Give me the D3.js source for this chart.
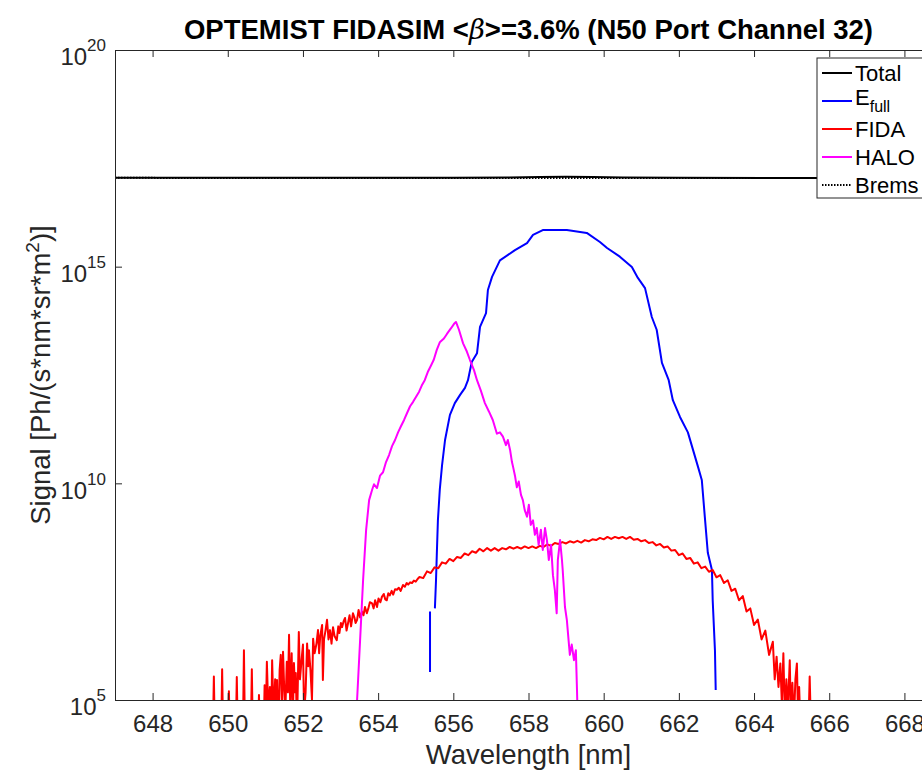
<!DOCTYPE html>
<html>
<head>
<meta charset="utf-8">
<script src="https://cdn.jsdelivr.net/npm/d3@7"></script>
<style>
  body { margin: 0; background: #fff; }
  svg { display: block; font-family: Helvetica, "Liberation Sans", Arial, sans-serif; }
</style>
</head>
<body>
<div class="chart_container"></div>
<script>
// ---- data ----
const wavelengthTicks = [648, 650, 652, 654, 656, 658, 660, 662, 664, 666, 668];
const signalTicks = [1e5, 1e10, 1e15, 1e20];

const totalWl  = [647, 650, 653, 656, 657.5, 658.3, 659, 659.7, 660.5, 662, 665, 669];
const totalSig = [1.12e17, 1.12e17, 1.12e17, 1.12e17, 1.14e17, 1.18e17, 1.19e17, 1.17e17, 1.14e17, 1.12e17, 1.11e17, 1.11e17];

const bremsWl  = [647, 669];
const bremsSig = [1.12e17, 1.11e17];

// null = gap in the trace
const efullWl  = [655.38, 655.38, 655.40, 655.51, 655.54, 655.56, 655.59, 655.64, 655.70, 655.78, 655.91, 656.04, 656.18, 656.31,
  656.39, 656.49, 656.63, 656.71, 656.87, 656.92, 657.03, 657.24, 657.64, 657.96, 658.12, 658.38, 659.02, 659.55, 659.90,
  660.09, 660.43, 660.75, 660.91, 661.10, 661.28, 661.41, 661.55, 661.73, 661.84, 662.03, 662.24, 662.51, 662.61, 662.69,
  662.77, 662.88, 662.90, 662.96, 662.98];
const efullSig = [4.4e5, 1.1e7, null, 1.3e7, 5.9e7, 2.2e8, 1.4e9, 7.1e9, 2.6e10, 1.0e11, 3.8e11, 7.1e11, 1.1e12, 1.6e12,
  2.4e12, 6.3e12, 1.0e13, 4.1e13, 8.5e13, 2.9e14, 5.8e14, 1.4e15, 2.4e15, 3.5e15, 5.4e15, 7.0e15, 7.0e15, 6.0e15, 3.7e15,
  2.7e15, 1.7e15, 9.8e14, 5.5e14, 3.2e14, 6.9e13, 3.5e13, 6.0e12, 2.4e12, 8.3e11, 3.4e11, 1.5e11, 2.4e10, 1.2e10, 1.7e9,
  2.5e8, 1.0e8, 2.0e7, 1.4e6, 1.7e5];

const fidaWl = [649.50, 649.60, 649.63, 649.66, 649.82, 649.85, 649.88, 650.00, 650.03, 650.06, 650.21, 650.24, 650.27,
  650.40, 650.43, 650.46, 650.61, 650.64, 650.67, 650.80, 650.83, 650.86, 650.95, 650.98, 651.01, 651.04, 651.08, 651.12,
  651.15, 651.18, 651.22, 651.26, 651.28, 651.31, 651.34, 651.38, 651.41, 651.44, 651.47, 651.50, 651.53, 651.57, 651.60,
  651.63, 651.66, 651.70, 651.73, 651.76, 651.79, 651.81, 651.84, 651.89, 651.92, 651.97, 652.00, 652.03, 652.07, 652.11,
  652.14, 652.16, 652.20, 652.24, 652.27, 652.31, 652.36, 652.40, 652.43, 652.46, 652.51, 652.53, 652.56, 652.60, 652.64,
  652.68, 652.72, 652.76, 652.80, 652.84, 652.90, 652.94, 652.97, 653.01, 653.04, 653.08, 653.12, 653.16, 653.20, 653.24,
  653.28, 653.33, 653.37, 653.40, 653.44, 653.48, 653.52, 653.57, 653.61, 653.65, 653.70, 653.74, 653.78, 653.84, 653.88,
  653.92, 653.97, 654.01, 654.06, 654.10, 654.15, 654.19, 654.23, 654.27, 654.31, 654.36, 654.40, 654.45, 654.50, 654.55,
  654.60, 654.66, 654.71, 654.76, 654.80, 654.85, 654.90, 654.95, 655.00, 655.05,
  655.1, 655.2, 655.3, 655.4, 655.5, 655.6, 655.7, 655.8, 655.9, 656.0, 656.1, 656.2, 656.3, 656.4, 656.5, 656.6, 656.7,
  656.8, 656.9, 657.0, 657.1, 657.2, 657.3, 657.4, 657.5, 657.6, 657.7, 657.8, 657.9, 658.0, 658.1, 658.2, 658.3, 658.4,
  658.5, 658.6, 658.7, 658.8, 658.9, 659.0, 659.1, 659.2, 659.3, 659.4, 659.5, 659.6, 659.7, 659.8, 659.9, 660.0, 660.1,
  660.2, 660.3, 660.4, 660.5, 660.6, 660.7, 660.8, 660.9, 661.0, 661.1, 661.2, 661.3, 661.4, 661.5, 661.6, 661.7, 661.8,
  661.9, 662.0, 662.1, 662.2, 662.3, 662.4, 662.5, 662.6, 662.7, 662.8, 662.9, 663.0, 663.1, 663.2, 663.3, 663.4, 663.5,
  663.6, 663.7, 663.8, 663.9, 664.0, 664.1, 664.2, 664.3, 664.4, 664.50, 664.55, 664.60, 664.65, 664.70, 664.74, 664.78,
  664.82, 664.86, 664.90, 664.95, 664.98, 665.02, 665.06, 665.10, 665.14, 665.17, 665.20, 665.23, 665.45, 665.48, 665.51,
  665.55];
const fidaSig = [1e4, 1e4, 3.5e5, 1e4, 1e4, 5.1e5, 1e4, 1e4, 1.6e5, 1e4, 1e4, 3.4e5, 1e4,
  1e4, 1.4e6, 1e4, 1e4, 5.1e5, 1e4, 1e4, 1.3e5, 1e4, 1e4, 2.2e5, 3e4, 7.6e5, 5e4, 2e5,
  1e4, 8.3e5, 4e4, 3e5, 2e4, 2.9e5, 1e4, 5e5, 1.1e6, 6e4, 1.3e6, 2e5, 5e4, 7.6e5, 1.5e5,
  3.2e6, 8e4, 1.2e6, 3e4, 7.1e5, 1.5e5, 4.2e5, 2e4, 3.7e6, 3e5, 9.8e5, 1.9e6, 5e4, 1.5e5, 2.0e6,
  6e5, 1.4e6, 4.9e5, 1e5, 2.6e6, 1.2e6, 2.0e6, 4.1e6, 1.2e6, 3.0e6, 5.4e6, 2.9e5, 2.5e6, 4.0e6, 7.1e6,
  2.5e6, 4.1e6, 2.0e6, 4.8e6, 3.0e6, 2.4e6, 5.0e6, 3.5e6, 6.0e6, 4.8e6, 6.5e6, 7.8e6, 4.0e6, 6.0e6, 9.0e6,
  5.0e6, 1.0e7, 8.0e6, 6.0e6, 7.1e6, 1.2e7, 8.0e6, 1.1e7, 9.0e6, 1.4e7, 1.0e7, 1.3e7, 1.8e7, 1.7e7, 1.3e7,
  2.0e7, 1.4e7, 2.2e7, 1.8e7, 2.4e7, 2.8e7, 2.1e7, 2.0e7, 2.9e7, 2.6e7, 3.3e7, 2.7e7, 3.6e7, 3.5e7, 3.9e7,
  3.3e7, 4.5e7, 4.1e7, 5.0e7, 4.6e7, 5.2e7, 5.0e7, 5.7e7, 5.4e7, 6.2e7,
  6.9e7, 6.5e7, 9.3e7, 8.5e7, 1.15e8, 1.1e8, 1.5e8, 1.4e8, 1.8e8, 1.6e8, 2.0e8, 1.9e8, 2.4e8, 2.2e8, 2.7e8, 2.5e8, 3.1e8,
  2.7e8, 3.2e8, 2.8e8, 3.2e8, 2.8e8, 3.2e8, 3.0e8, 3.4e8, 3.1e8, 3.4e8, 3.1e8, 3.5e8, 3.2e8, 3.5e8, 3.2e8, 3.6e8, 3.4e8,
  3.9e8, 3.6e8, 4.2e8, 4.0e8, 4.4e8, 4.1e8, 4.6e8, 4.3e8, 4.7e8, 4.3e8, 4.9e8, 4.6e8, 5.1e8, 4.9e8, 5.5e8, 5.1e8, 5.8e8,
  5.2e8, 5.8e8, 5.4e8, 5.8e8, 5.2e8, 5.8e8, 5.0e8, 5.2e8, 4.6e8, 4.9e8, 4.2e8, 4.4e8, 3.7e8, 4.0e8, 3.3e8, 3.5e8, 2.8e8,
  2.9e8, 2.2e8, 2.4e8, 1.8e8, 1.9e8, 1.4e8, 1.5e8, 1.1e8, 1.2e8, 9.1e7, 1.0e8, 6.8e7, 7.6e7, 5.0e7, 5.8e7, 3.3e7, 3.7e7,
  2.0e7, 2.5e7, 1.1e7, 1.3e7, 5.4e6, 7.2e6, 2.5e6, 4.0e6, 1.1e6, 2.2e6, 3e5, 1.0e6, 2e5, 7e5, 8e4, 1.2e6,
  4e4, 3e5, 6e4, 8.3e5, 4e4, 2.5e5, 3e4, 3e5, 7e5, 4e4, 2e5, 3e4, 3e4, 3.5e5, 3e4,
  1e3];

const haloWl = [653.41, 653.44, 653.52, 653.60, 653.68, 653.76, 653.84, 653.89, 653.97, 654.05, 654.13, 654.21, 654.29,
  654.37, 654.45, 654.53, 654.61, 654.69, 654.77, 654.85, 654.93, 655.01, 655.09, 655.16, 655.24, 655.32, 655.40, 655.48,
  655.56, 655.64, 655.75, 655.83, 655.94, 656.02, 656.07, 656.15, 656.26, 656.36, 656.44, 656.55, 656.63, 656.73, 656.84,
  656.95, 657.05, 657.16, 657.24, 657.32, 657.40, 657.45, 657.51, 657.56, 657.59, 657.64, 657.69, 657.74, 657.80, 657.85,
  657.90, 657.96, 658.01, 658.06, 658.12, 658.17, 658.22, 658.27, 658.33, 658.38, 658.44, 658.49, 658.54, 658.60, 658.65,
  658.70, 658.75, 658.78, 658.84, 658.89, 658.91, 658.97, 659.02, 659.05, 659.10, 659.15, 659.21, 659.26, 659.29, 659.31];
const haloSig = [3.5e4, 1.0e5, 2.4e6, 5.9e7, 8.3e8, 4.1e9, 7.1e9, 9.5e9, 7.8e9, 1.5e10, 1.8e10, 3.1e10, 4.5e10,
  7.2e10, 1.0e11, 1.5e11, 2.1e11, 2.9e11, 4.2e11, 6.0e11, 7.6e11, 1.0e12, 1.3e12, 1.8e12, 2.4e12, 3.7e12, 5.1e12, 7.1e12,
  1.2e13, 1.8e13, 2.2e13, 2.8e13, 3.8e13, 4.8e13, 5.3e13, 3.5e13, 1.7e13, 1.1e13, 7.1e12, 4.1e12, 2.4e12, 1.4e12, 7.1e11,
  4.5e11, 2.9e11, 1.4e11, 1.5e11, 1.2e11, 7.6e10, 1.0e11, 5.9e10, 3.1e10, 2.4e10, 1.5e10, 8.1e9, 1.1e10, 5.4e9, 4.1e9,
  2.4e9, 1.7e9, 3.2e9, 1.1e9, 1.4e9, 6.5e8, 9.3e8, 3.8e8, 8.5e8, 2.9e8, 9.3e8, 4.9e8, 1.7e8, 3.8e8, 7.6e7,
  3.5e7, 1.0e7, 1.7e8, 4.9e8, 1.7e8, 1.0e8, 1.4e7, 7.1e6, 3.5e6, 1.1e6, 1.9e6, 8.3e5, 1.4e6, 1.7e5, 3.5e4];

const seriesNames = ["Total", "E", "FIDA", "HALO", "Brems"];

// ---- layout ----
const w = 922;
const h = 770;
const margin = {left: 115, top: 50, bottom: 700, right: 942};
const axisColor = "#262626";

const svg = d3.select(".chart_container").append("svg").attr("width", w).attr("height", h);

const xScale = d3.scaleLinear().domain([647, 669]).range([margin.left, margin.right]);
const yScale = d3.scaleLog().domain([1e5, 1e20]).range([margin.bottom, margin.top]);

svg.append("clipPath").attr("id", "plot-clip")
  .append("rect")
  .attr("x", margin.left).attr("y", margin.top)
  .attr("width", margin.right - margin.left).attr("height", margin.bottom - margin.top);

const line = d3.line()
  .defined(d => d[1] != null)
  .x(d => xScale(d[0]))
  .y(d => yScale(d[1]));

const zip = (a, b) => a.map((v, i) => [v, b[i]]);

const traces = [
  {wl: totalWl, sig: totalSig, color: "#000", dash: null},
  {wl: efullWl, sig: efullSig, color: "#0000ff", dash: null},
  {wl: fidaWl, sig: fidaSig, color: "#ff0000", dash: null},
  {wl: haloWl, sig: haloSig, color: "#ff00ff", dash: null},
  {wl: bremsWl, sig: bremsSig, color: "#000", dash: "1.5,1.5"}
];

const plotG = svg.append("g").attr("clip-path", "url(#plot-clip)");
traces.forEach(t => {
  plotG.append("path")
    .datum(zip(t.wl, t.sig))
    .attr("fill", "none")
    .attr("stroke", t.color)
    .attr("stroke-width", 2)
    .attr("stroke-linejoin", "round")
    .attr("stroke-dasharray", t.dash)
    .attr("d", line);
});

// ---- axes ----
const styleAxis = g => {
  g.select(".domain").attr("stroke", axisColor);
  g.selectAll(".tick line").attr("stroke", axisColor);
  g.selectAll(".tick text").attr("fill", axisColor).attr("font-size", 24).attr("font-family", null);
};

svg.append("g")
  .attr("transform", "translate(0," + margin.bottom + ")")
  .call(d3.axisBottom(xScale).tickValues(wavelengthTicks).tickFormat(d3.format("d"))
    .tickSizeInner(-7).tickSizeOuter(0).tickPadding(15))
  .call(styleAxis);

svg.append("g")
  .attr("transform", "translate(0," + margin.top + ")")
  .call(d3.axisTop(xScale).tickValues(wavelengthTicks).tickFormat("")
    .tickSizeInner(-7).tickSizeOuter(0))
  .call(styleAxis);

svg.append("g")
  .attr("transform", "translate(" + margin.right + ",0)")
  .call(d3.axisRight(yScale).tickValues(signalTicks).tickFormat("")
    .tickSizeInner(-7).tickSizeOuter(0))
  .call(styleAxis);

const yAxisG = svg.append("g")
  .attr("transform", "translate(" + margin.left + ",0)")
  .call(d3.axisLeft(yScale).tickValues(signalTicks)
    .tickSizeInner(-7).tickSizeOuter(0).tickPadding(9))
  .call(styleAxis);

yAxisG.selectAll(".tick text")
  .text(null)
  .attr("dy", "0.62em")
  .each(function (d) {
    const t = d3.select(this);
    t.append("tspan").text("10");
    t.append("tspan").attr("font-size", 17).attr("dy", -14).text(Math.round(Math.log10(d)));
  });

// ---- labels ----
svg.append("text")
  .attr("x", (margin.left + margin.right) / 2)
  .attr("y", 764)
  .attr("text-anchor", "middle")
  .attr("font-size", 27.5)
  .attr("fill", axisColor)
  .text("Wavelength [nm]");

const yLab = svg.append("text")
  .attr("transform", "rotate(-90)")
  .attr("x", -(margin.top + margin.bottom) / 2)
  .attr("y", 50)
  .attr("text-anchor", "middle")
  .attr("font-size", 27.5)
  .attr("fill", axisColor);
yLab.append("tspan").text("Signal [Ph/(s*nm*sr*m");
yLab.append("tspan").attr("font-size", 19).attr("dy", -11).text("2");
yLab.append("tspan").attr("dy", 11).text(")]");

const title = svg.append("text")
  .attr("x", (margin.left + margin.right) / 2)
  .attr("y", 39)
  .attr("text-anchor", "middle")
  .attr("font-size", 27.5)
  .attr("font-weight", "bold")
  .attr("fill", "#000");
title.append("tspan").text("OPTEMIST FIDASIM <");
title.append("tspan").attr("font-family", "'DejaVu Serif', serif").attr("font-style", "italic")
  .attr("font-weight", "normal").text("\u03B2");
title.append("tspan").text(">=3.6% (N50 Port Channel 32)");

// ---- legend ----
const legend = svg.append("g").attr("transform", "translate(817,58)");
legend.append("rect")
  .attr("width", 115).attr("height", 140)
  .attr("fill", "#fff").attr("stroke", axisColor).attr("stroke-width", 1);

traces.forEach((t, i) => {
  const yy = 15 + i * 28;
  legend.append("line")
    .attr("x1", 5).attr("x2", 35).attr("y1", yy).attr("y2", yy)
    .attr("stroke", t.color).attr("stroke-width", 2)
    .attr("stroke-dasharray", t.dash);
  const txt = legend.append("text")
    .attr("x", 38).attr("y", yy)
    .attr("dy", i === 1 ? 4 : 8)
    .attr("font-size", 22)
    .attr("fill", "#000")
    .text(seriesNames[i]);
  if (i === 1) {
    txt.append("tspan").attr("font-size", 16).attr("dy", 7).text("full");
  }
});
</script>
</body>
</html>
